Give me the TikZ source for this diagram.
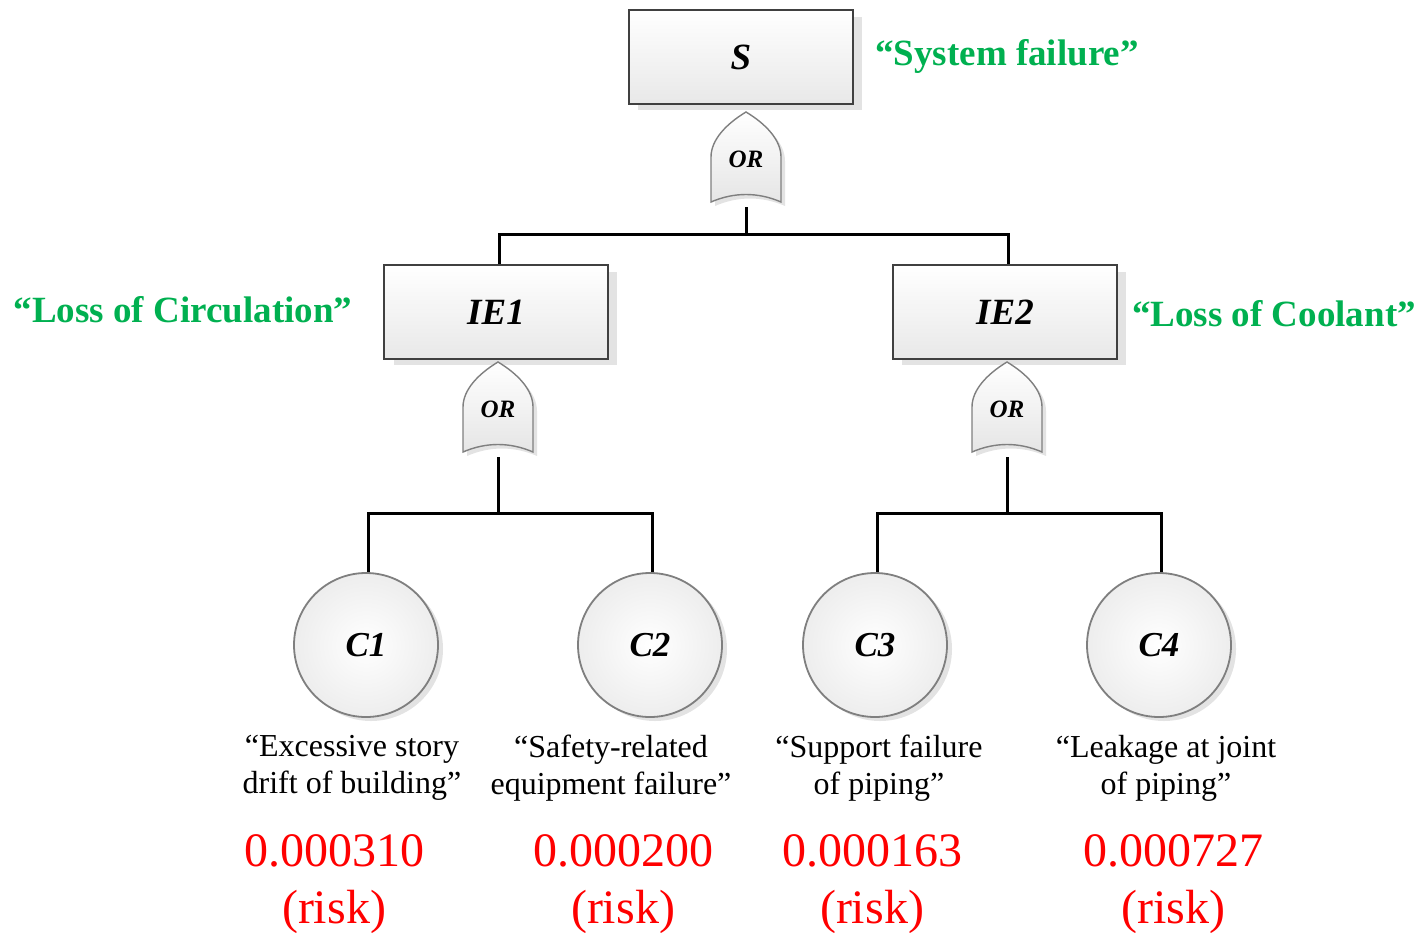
\documentclass[tikz,border=0pt]{standalone}
\usepackage{fontspec}
\setmainfont{Liberation Serif}
\usetikzlibrary{calc}
\definecolor{labelgreen}{HTML}{00B050}
\definecolor{riskred}{HTML}{FF0000}
\definecolor{edgegray}{HTML}{404040}
\definecolor{gategray}{HTML}{7F7F7F}
\definecolor{shadowgray}{HTML}{E3E3E3}

\tikzset{
  event/.style={draw=edgegray, line width=2.8pt, top color=white, bottom color=black!9,
    minimum width=224pt, minimum height=94pt, inner sep=0pt,
    font=\fontsize{37}{40}\selectfont\bfseries\itshape},
  basic/.style={circle, draw=gategray, line width=1.8pt, inner color=white, outer color=black!7,
    minimum size=144pt, inner sep=0pt, font=\fontsize{35}{40}\selectfont\bfseries\itshape},
  gatetext/.style={inner sep=0pt, font=\fontsize{25}{28}\selectfont\bfseries\itshape},
  wire/.style={line width=3pt, black},
  note/.style={text=labelgreen, font=\fontsize{37}{42}\selectfont\bfseries},
  desc/.style={align=center, font=\fontsize{32}{37}\selectfont},
  risk/.style={align=center, text=riskred, font=\fontsize{48}{57}\selectfont},
}

% OR gate: #1 name, #2 x of axis, #3 y of tip
\newcommand{\faultgate}[3]{%
  \fill[shadowgray] ($(#2,#3)+(4,4)$) .. controls +(-20,12) and +(0,-17) .. ++(-35,45)
     -- ++(0,45) .. controls +(23,-10) and +(-23,-10) .. ++(70,0) -- ++(0,-45)
     .. controls +(0,-17) and +(20,12) .. cycle;
  \draw[gategray, line width=1.4pt, top color=white, bottom color=black!10]
     (#2,#3) .. controls +(-20,12) and +(0,-17) .. ++(-35,45)
     -- ++(0,45) .. controls +(23,-10) and +(-23,-10) .. ++(70,0) -- ++(0,-45)
     .. controls +(0,-17) and +(20,12) .. cycle;
  \node[gatetext] (#1) at (#2,#3+47) {OR};
  \coordinate (#1out) at (#2,#3+95);
}

\begin{document}
\begin{tikzpicture}[x=1pt,y=-1pt]
\useasboundingbox (0,0) rectangle (1420,932);

% shadows of the event boxes and basic events
\fill[shadowgray] (638,17) rectangle (862,110);
\fill[shadowgray] (394,272) rectangle (617,365);
\fill[shadowgray] (902,272) rectangle (1126,365);
\foreach \cx in {366,650,875,1159} \fill[shadowgray] (\cx+5,649) circle (72);

% events
\node[event] (S) at (741,57) {\raisebox{-5pt}{S}};
\node[event] (IE1) at (496,312) {IE1};
\node[event] (IE2) at (1005,312) {IE2};

% gates
\faultgate{gS}{746}{112}
\faultgate{gA}{498}{362}
\faultgate{gB}{1007}{362}

% basic events
\node[basic] (C1) at (366,645) {C1};
\node[basic] (C2) at (650,645) {C2};
\node[basic] (C3) at (875,645) {C3};
\node[basic] (C4) at (1159,645) {C4};

% junction points
\coordinate (jS) at (746,234);
\coordinate (jA) at (498,513);
\coordinate (jB) at (1007,513);

% connectors
\draw[wire] (gSout) -- (jS);
\draw[wire] (jS) -| ($(IE1.north)+(3,0)$);
\draw[wire] (jS) -| ($(IE2.north)+(3,0)$);
\draw[wire] (gAout) -- (jA);
\draw[wire] (jA) -| ($(C1.north)+(2,0)$);
\draw[wire] (jA) -| ($(C2.north)+(2,0)$);
\draw[wire] (gBout) -- (jB);
\draw[wire] (jB) -| ($(C3.north)+(2,0)$);
\draw[wire] (jB) -| ($(C4.north)+(2,0)$);

% green event descriptions
\node[note] (nS)   at (1007,56)  {“System failure”};
\node[note] (nIE1) at (183,310)  {“Loss of Circulation”};
\node[note] (nIE2) at (1274,314) {“Loss of Coolant”};

% basic event descriptions
\node[desc] (d1) at (352,768)  {“Excessive story\\drift of building”};
\node[desc] (d2) at (611,768)  {“Safety-related\\equipment failure”};
\node[desc] (d3) at (879,768)  {“Support failure\\of piping”};
\node[desc] (d4) at (1166,768) {“Leakage at joint\\of piping”};

% risk values
\node[risk] (r1) at (334,884)  {0.000310\\(risk)};
\node[risk] (r2) at (623,884)  {0.000200\\(risk)};
\node[risk] (r3) at (872,884)  {0.000163\\(risk)};
\node[risk] (r4) at (1173,884) {0.000727\\(risk)};
\end{tikzpicture}
\end{document}
